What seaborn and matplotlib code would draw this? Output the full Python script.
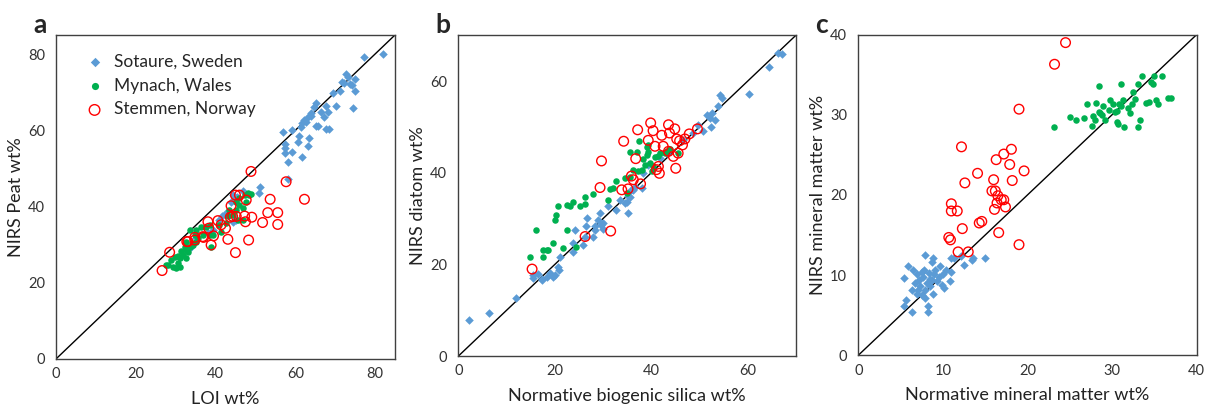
"""NIRS vs. reference measurements for three lake/peat sites (panels a-c)."""
import matplotlib
matplotlib.use("Agg")
import matplotlib.pyplot as plt
import pandas as pd
import seaborn as sns

SITES = ["Sotaure, Sweden", "Mynach, Wales", "Stemmen, Norway"]
BLUE = "#5B9BD5"
GREEN = "#00B050"
RED = "#FF0000"

# ---- panel a: LOI wt% vs NIRS peat wt%
a_sot_x = [82, 77.3, 72.7, 73.3, 75, 71.7, 72.3, 73.7, 74.3, 71.2, 75, 69.5, 74.5, 70.3,
           67.8, 68.1, 67.3, 65.2, 64.8, 63.9, 63.1, 62.3, 61.7, 61.4, 65.2, 65.8, 67.8,
           68.4, 59.3, 56.8, 61, 63.5, 60.8, 63.1, 57.5, 57.3, 57.5, 59.3, 61.7, 58.1,
           58.3, 51.2, 50.8, 44.3, 43.9, 44.8, 41.7, 42.7, 41, 39.3, 35.2, 33.9, 44.3,
           45.2, 62.6, 64, 66.5, 38, 47, 45.5]
a_sot_y = [80, 79.2, 74.8, 74.1, 73.4, 72.8, 72.4, 72.1, 71.9, 70.2, 70.3, 69.7, 65.8, 66.4,
           66.4, 64.9, 63.6, 67.1, 66.2, 64.5, 63.6, 62.7, 61.9, 60.8, 61.2, 61.2, 60.3,
           60.3, 60.1, 59.5, 58.5, 57.9, 56.8, 55.9, 56.4, 55.3, 54.1, 54.4, 53.1, 51.6,
           47.2, 45.1, 43.5, 43, 41.3, 41.7, 37.5, 38.2, 36.5, 33.9, 31.7, 29.5, 36,
           36.5, 62.2, 63.8, 64.8, 33, 44, 42.5]
a_myn_x = [28.1, 29.3, 30.2, 30.6, 28.9, 31, 31.8, 32.7, 31.4, 32.7, 33.5, 34.3, 32.7, 35.2,
           35.6, 33.5, 35.2, 36.8, 38.5, 38.9, 36.4, 38.5, 41.4, 41, 42.7, 43.1, 44.3,
           45.2, 46, 46.8, 46, 47.3, 48.1, 48.9, 45.6, 46.8, 45.2, 43.5, 34.8, 31, 29.8,
           32.3, 27.7, 30.5, 33, 34, 37.7, 39.3, 47.7, 48.5]
a_myn_y = [24.7, 24.2, 23.8, 25.1, 26, 26.4, 27.3, 26.4, 28.2, 28.6, 29.5, 29.9, 30.8, 30.8,
           31.7, 33.9, 33.9, 32.5, 32.5, 29.5, 34.7, 35.2, 33.4, 35.2, 35.6, 37.4, 37.8,
           39.1, 40.4, 39.5, 42.2, 43.1, 43.5, 43.2, 36.5, 36.5, 41.3, 39.1, 32.5, 24.2,
           26.8, 29.5, 24.7, 27, 28, 30.5, 34.7, 32.5, 41.3, 43]
a_ste_x = [26.6, 28.5, 32.8, 34.8, 34.8, 37, 38.1, 38.3, 38.9, 39.5, 40.6, 41.4, 42.5, 43.1,
           43.7, 44.3, 43.9, 45.2, 45, 45, 46, 47.3, 47.5, 47.7, 48.3, 48.9, 49.1, 51.8,
           53.1, 53.7, 55.6, 55.6, 57.7, 62.3, 33.1, 36.8]
a_ste_y = [23.2, 28, 30.8, 31.9, 31.2, 31.9, 36, 34.3, 29.9, 32.3, 36.3, 35.2, 34.3, 31.4,
           37.2, 37.4, 40.2, 37.4, 27.9, 43, 43, 37.5, 36, 41.7, 31.2, 49.2, 37.2, 35.8,
           38.4, 41.9, 38.4, 35.3, 46.5, 41.9, 30.8, 32.1]

# ---- panel b: normative biogenic silica wt% vs NIRS diatom wt%
b_sot_x = [2.3, 6.4, 12, 15.4, 15.4, 16.6, 17.3, 18.3, 19, 19.7, 20.7, 20.9, 21.1, 23.8,
           23.8, 24.2, 25.8, 26.3, 26.5, 26.7, 27.9, 28.3, 29, 29.4, 30.1, 29.7, 31.1,
           32.8, 33.5, 34.9, 35.6, 35.2, 36.3, 36.6, 38, 38.4, 39.4, 41.8, 43.2, 46.6,
           48.7, 49.8, 50.8, 51.5, 52.2, 52.5, 52.7, 53.2, 53.9, 54.3, 54.6, 60.3, 64.5,
           66.3, 67.2, 17.4, 20, 28.4, 30, 34.6, 35.9, 35.3]
b_sot_y = [7.9, 9.4, 12.6, 17, 17.7, 17.9, 16.6, 17.3, 18.1, 17.3, 19.5, 18.8, 21.7, 24.6,
           22.8, 27.6, 24.3, 26.1, 28.3, 30.1, 26.1, 27.6, 29.7, 31.2, 27.7, 28.6, 32.7,
           31.9, 34.1, 33.7, 34.7, 31.2, 36.3, 37, 36.7, 39.9, 41.8, 43.2, 44.3, 47.2,
           48.7, 50.5, 49.1, 52.7, 52, 50.1, 53.1, 51.6, 54.5, 57.1, 56.3, 57.3, 63,
           66.2, 66, 16.8, 17.6, 28.3, 29, 33.4, 36.3, 34.9]
b_myn_x = [14.9, 16.2, 17.6, 17.6, 18.7, 19.7, 20, 20.3, 20.6, 21.8, 22.5, 22.5, 23.2, 23.8,
           24.5, 25.2, 26.2, 26.2, 28, 31.1, 31.4, 32.1, 32.8, 34.5, 34.9, 35.6, 35.6,
           37.1, 37.5, 37.3, 38, 38.4, 39.1, 39.1, 39.4, 38.7, 39.7, 40.1, 40.4, 41.5,
           41.8, 42.8, 43.3, 43.9, 45.6, 39.4, 40.8, 36.3, 18.3]
b_myn_y = [21.7, 27.6, 23.2, 21.7, 23.2, 24.6, 29.7, 30.8, 32.8, 23.5, 27.6, 33, 32.7, 33.7,
           23.8, 32.8, 34.8, 33.2, 35.4, 34.1, 36.4, 36.7, 38.3, 38.8, 35.6, 39.2, 44.5,
           44.5, 46.9, 40.3, 40.7, 43, 43.9, 45.6, 46.1, 41.8, 42.1, 40.3, 41.4, 43.6,
           44.3, 44.3, 44.7, 45.2, 44.3, 44.6, 43.5, 40.7, 23.2]
b_ste_x = [15.3, 26.3, 29.4, 29.7, 31.6, 33.9, 34.3, 35.2, 35.9, 36.3, 36.8, 37.2, 37.8,
           39.4, 39.9, 40.4, 40.8, 41.1, 41.5, 41.7, 42.2, 42.5, 43.6, 43.6, 43.8, 44.6,
           44.9, 45.3, 45.1, 45.6, 45.9, 46.5, 47, 47.9, 49.6]
b_ste_y = [19, 26.1, 36.8, 42.6, 27.3, 36.3, 46.9, 36.5, 39.3, 38.5, 43.1, 49.4, 37.6,
           47.1, 50.9, 49.2, 45.8, 40.7, 41.4, 39.9, 48.2, 45.8, 44.7, 50.5, 48.7, 43.6,
           49.6, 47.4, 41, 44.3, 47, 46.1, 47.4, 48.5, 49.6]

# ---- panel c: normative mineral matter wt% vs NIRS mineral matter wt%
c_sot_x = [5.4, 5.4, 5.7, 5.9, 6.3, 6.5, 6.4, 6.7, 6.9, 7, 7.2, 7.3, 7.5, 7.6, 7.8, 7.9,
           7.9, 8.1, 8.2, 8.3, 8.4, 8.5, 8.7, 8.8, 8.9, 9.1, 8.8, 9.3, 9.5, 9.7, 9.9,
           10.1, 10.4, 10.8, 11, 11, 11.3, 12.2, 12.5, 13.4, 13.6, 15, 10, 7.5, 7.1,
           8.5, 7.9, 8.7]
c_sot_y = [9.6, 6.2, 6.9, 11.2, 5.4, 10.6, 8.1, 9, 7.7, 10.1, 9.4, 8.6, 7.5, 9.8, 10.6,
           12.5, 7.1, 9, 5.4, 6.2, 10.3, 9.5, 11.7, 7.7, 10.1, 10.7, 12.1, 9.3, 9.8, 11.1,
           8.8, 8.4, 10.7, 9.3, 10.4, 12.1, 12.1, 12.4, 11.3, 11.9, 12.1, 12.1, 10.2,
           10.4, 8.2, 8.6, 8.1, 9.4]
c_myn_x = [23.1, 25, 25.7, 26.7, 27, 27.8, 28, 28.1, 28.4, 28.6, 28.9, 29.2, 29.6, 29.8,
           30.1, 30.3, 30.6, 30.6, 30.8, 31, 31, 31.3, 31.4, 31.9, 32.1, 32.3, 32.5,
           32.7, 33.1, 33.3, 33.1, 33.5, 34, 34.4, 34.6, 34.8, 35, 35.2, 35.4, 35.9,
           36.6, 37, 28.8, 27.6, 28.4, 30.7]
c_myn_y = [28.5, 29.7, 29.3, 29.6, 31.3, 29.9, 29.4, 31.5, 33.6, 30.2, 31.1, 29.4, 30.6,
           31.9, 31.3, 30.3, 29.1, 30.5, 31.4, 33.8, 31.1, 31.9, 28.5, 30.8, 30.2, 31.3,
           32.9, 32, 28.5, 29.4, 33.8, 34.8, 31.5, 31.6, 34.1, 33.9, 34.8, 31.9, 31.4,
           34.8, 32.1, 32.1, 30, 28.6, 30.3, 28.9]
c_ste_x = [24.5, 23.2, 19, 12.2, 18.1, 17.2, 16.3, 17.9, 14.1, 19.6, 12.6, 16, 18.2, 15.8,
           16.2, 16.5, 16.9, 17.2, 16.4, 16.1, 17.4, 11, 11, 11.7, 14.6, 14.3, 12.3, 16.6,
           10.7, 10.9, 11.8, 13, 19]
c_ste_y = [39, 36.3, 30.7, 26, 25.7, 25.1, 24.4, 23.8, 22.7, 23, 21.5, 21.9, 21.8, 20.5,
           20.5, 19.9, 19.4, 19.4, 19, 18.2, 18.5, 18.9, 18, 18, 16.7, 16.5, 15.8, 15.3,
           14.7, 14.4, 12.9, 12.9, 13.8]

PANELS = [
    ("a", "LOI wt%", "NIRS Peat wt%", 85, [0, 20, 40, 60, 80],
     [(a_sot_x, a_sot_y), (a_myn_x, a_myn_y), (a_ste_x, a_ste_y)]),
    ("b", "Normative biogenic silica wt%", "NIRS diatom wt%", 70, [0, 20, 40, 60],
     [(b_sot_x, b_sot_y), (b_myn_x, b_myn_y), (b_ste_x, b_ste_y)]),
    ("c", "Normative mineral matter wt%", "NIRS mineral matter wt%", 40,
     [0, 10, 20, 30, 40],
     [(c_sot_x, c_sot_y), (c_myn_x, c_myn_y), (c_ste_x, c_ste_y)]),
]

POSICIONES = [
    [0.0463, 0.118, 0.2804, 0.796],
    [0.3791, 0.125, 0.2791, 0.788],
    [0.7099, 0.127, 0.2799, 0.788],
]
LETRA_X = [40, 443, 821]

ESTILO = {
    "Sotaure, Sweden": dict(marker="D", s=19, color=BLUE, linewidth=0),
    "Mynach, Wales": dict(marker="o", s=22, color=GREEN, linewidth=0),
    "Stemmen, Norway": dict(marker="o", s=48, facecolors="none", edgecolors=RED,
                            linewidth=1.0),
}

sns.set_style("white")
plt.rcParams["font.family"] = ["Lato", "DejaVu Sans"]

fig = plt.figure(figsize=(12.09, 4.07), dpi=100)

for i, (letra, xlab, ylab, lim, ticks, series) in enumerate(PANELS):
    ax = fig.add_axes(POSICIONES[i])
    ax.plot([0, lim], [0, lim], color="black", linewidth=1.0, zorder=1)
    for sitio, (xs, ys) in zip(SITES, series):
        df = pd.DataFrame({"x": xs, "y": ys})
        sns.scatterplot(data=df, x="x", y="y", ax=ax, label=sitio, zorder=3,
                        **ESTILO[sitio])
    ax.set_xlim(0, lim)
    ax.set_ylim(0, lim)
    ax.set_xticks(ticks)
    ax.set_yticks(ticks)
    ax.set_xlabel(xlab, fontsize=13, color="#222222", labelpad=7)
    ax.set_ylabel(ylab, fontsize=13, color="#222222", labelpad=3)
    ax.tick_params(axis="x", direction="in", length=4, width=0.8,
                   labelsize=10.5, colors="#404040", pad=6)
    ax.tick_params(axis="y", direction="out", length=4, width=0.8,
                   labelsize=10.5, colors="#404040", pad=4)
    ax.tick_params(axis="both", labelcolor="#333333")
    for lado in ax.spines.values():
        lado.set_color("#404040")
        lado.set_linewidth(1.0)
    if i == 0:
        ax.legend(loc="upper left", frameon=False, fontsize=12.5,
                  bbox_to_anchor=(0.037, 0.99), handlelength=1.2,
                  handletextpad=0.5, labelspacing=0.45, markerscale=1.1)
    else:
        ax.get_legend().remove()
    fig.text(LETRA_X[i] / 1209, 1 - 25 / 407, letra, fontsize=19,
             fontweight="bold", ha="center", va="center")

fig.savefig("out.png", dpi=100)
